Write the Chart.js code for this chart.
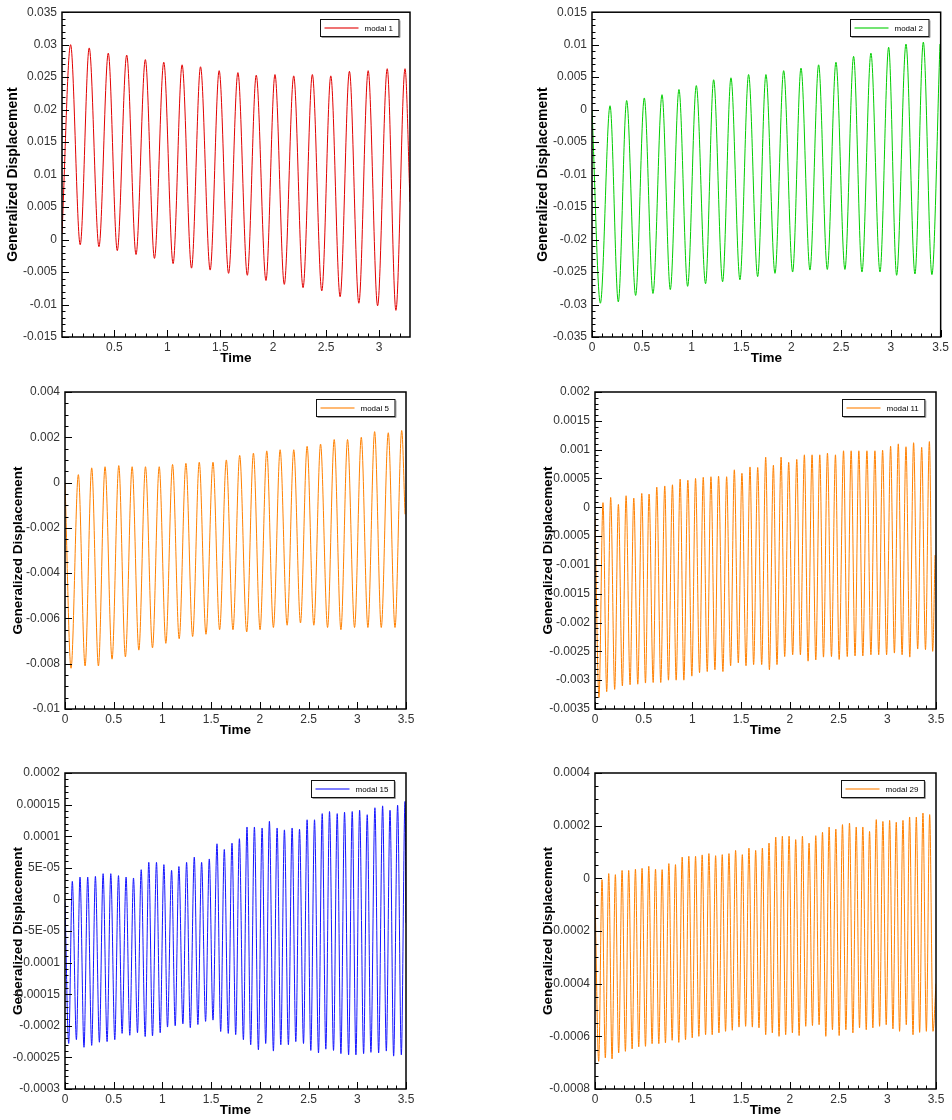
<!DOCTYPE html>
<html>
<head>
<meta charset="utf-8">
<script src="https://cdn.jsdelivr.net/npm/chart.js@4.4.0/dist/chart.umd.min.js"></script>
<style>
  body { margin: 0; background: #fff; width: 952px; height: 1120px; position: relative; overflow: hidden; }
  canvas { position: absolute; }
</style>
</head>
<body>
<canvas id="c1" width="420" height="368" style="left:0px;top:0px"></canvas>
<canvas id="c2" width="422" height="368" style="left:530px;top:0px"></canvas>
<canvas id="c3" width="420" height="372" style="left:0px;top:370px"></canvas>
<canvas id="c4" width="422" height="372" style="left:530px;top:370px"></canvas>
<canvas id="c5" width="420" height="375" style="left:0px;top:745px"></canvas>
<canvas id="c6" width="422" height="375" style="left:530px;top:745px"></canvas>
<script>
// --- données (pics et creux successifs) ---

// modal 1
const modal1Time = [0.006, 0.087, 0.178, 0.263, 0.355, 0.443, 0.528, 0.617, 0.705, 0.793, 0.879, 0.967, 1.055, 1.14, 1.229, 1.314, 1.405, 1.49, 1.579, 1.667, 1.756, 1.84, 1.932, 2.017, 2.105, 2.194, 2.282, 2.37, 2.459, 2.544, 2.632, 2.72, 2.809, 2.897, 2.986, 3.077, 3.159, 3.245, 3.292];
const modal1Disp = [0.0009, 0.0300, -0.0008, 0.0295, -0.0011, 0.0287, -0.0017, 0.0284, -0.0023, 0.0277, -0.0029, 0.0273, -0.0037, 0.0269, -0.0044, 0.0266, -0.0047, 0.0260, -0.0052, 0.0257, -0.0055, 0.0253, -0.0063, 0.0254, -0.0069, 0.0252, -0.0074, 0.0254, -0.0079, 0.0252, -0.0088, 0.0259, -0.0098, 0.0260, -0.0102, 0.0263, -0.0109, 0.0263, 0.0058];

// modal 2
const modal2Time = [0, 0.084, 0.181, 0.264, 0.348, 0.438, 0.525, 0.612, 0.703, 0.786, 0.873, 0.96, 1.047, 1.14, 1.221, 1.311, 1.395, 1.485, 1.572, 1.663, 1.746, 1.837, 1.924, 2.014, 2.098, 2.188, 2.275, 2.362, 2.449, 2.539, 2.626, 2.71, 2.8, 2.891, 2.978, 3.058, 3.152, 3.242, 3.326, 3.412, 3.493];
const modal2Disp = [0.0000, -0.0298, 0.0006, -0.0296, 0.0014, -0.0286, 0.0018, -0.0283, 0.0023, -0.0277, 0.0031, -0.0272, 0.0037, -0.0268, 0.0046, -0.0265, 0.0049, -0.0262, 0.0054, -0.0257, 0.0054, -0.0252, 0.0060, -0.0250, 0.0064, -0.0247, 0.0069, -0.0246, 0.0073, -0.0246, 0.0082, -0.0250, 0.0087, -0.0250, 0.0096, -0.0255, 0.0101, -0.0253, 0.0104, -0.0254, 0.0101];

// modal 5
const modal5Time = [0, 0.062, 0.137, 0.206, 0.274, 0.343, 0.411, 0.483, 0.552, 0.62, 0.689, 0.758, 0.826, 0.898, 0.967, 1.035, 1.104, 1.172, 1.241, 1.31, 1.378, 1.447, 1.519, 1.587, 1.656, 1.724, 1.793, 1.865, 1.934, 2.002, 2.071, 2.139, 2.208, 2.28, 2.348, 2.417, 2.485, 2.554, 2.623, 2.695, 2.763, 2.832, 2.9, 2.972, 3.041, 3.109, 3.178, 3.246, 3.318, 3.387, 3.456, 3.49];
const modal5Disp = [0, -0.0082, 0.00035, -0.0081, 0.00065, -0.0081, 0.0007, -0.0078, 0.00075, -0.0077, 0.0007, -0.0074, 0.0007, -0.0073, 0.0007, -0.0071, 0.0008, -0.0069, 0.00085, -0.0068, 0.0009, -0.0067, 0.0009, -0.0065, 0.001, -0.0065, 0.0012, -0.0066, 0.0013, -0.0065, 0.0014, -0.0064, 0.00145, -0.0063, 0.00145, -0.0062, 0.0016, -0.0063, 0.0017, -0.0064, 0.0019, -0.0065, 0.0019, -0.0064, 0.002, -0.0064, 0.00225, -0.0064, 0.0022, -0.0064, 0.0023, -0.0014];

// modal 11
const modal11PeakTime = [0.082, 0.161, 0.24, 0.319, 0.398, 0.48, 0.555, 0.634, 0.716, 0.795, 0.874, 0.953, 1.032, 1.111, 1.19, 1.268, 1.351, 1.43, 1.508, 1.591, 1.67, 1.752, 1.831, 1.91, 1.988, 2.071, 2.149, 2.228, 2.307, 2.386, 2.468, 2.551, 2.629, 2.708, 2.791, 2.873, 2.952, 3.034, 3.113, 3.192, 3.27, 3.353, 3.432];
const modal11Peak = [0.00008, 0.00017, 0.00005, 0.0002, 0.00016, 0.00024, 0.00023, 0.00035, 0.00037, 0.00039, 0.00049, 0.00047, 0.0005, 0.00052, 0.00053, 0.00054, 0.00053, 0.00065, 0.00059, 0.0007, 0.00069, 0.00087, 0.00073, 0.00087, 0.00078, 0.00083, 0.00091, 0.00091, 0.00091, 0.00094, 0.00091, 0.00098, 0.00098, 0.00098, 0.00098, 0.00098, 0.00099, 0.00106, 0.0011, 0.00105, 0.00112, 0.00104, 0.00114];
const modal11TroughTime = [0.041, 0.12, 0.202, 0.281, 0.36, 0.439, 0.518, 0.597, 0.675, 0.754, 0.833, 0.912, 0.994, 1.073, 1.152, 1.231, 1.313, 1.392, 1.471, 1.55, 1.628, 1.711, 1.79, 1.868, 1.947, 2.029, 2.108, 2.187, 2.266, 2.345, 2.427, 2.506, 2.589, 2.669, 2.749, 2.832, 2.912, 2.993, 3.073, 3.152, 3.231, 3.312, 3.392, 3.466];
const modal11Trough = [-0.0033, -0.0032, -0.00316, -0.0031, -0.00308, -0.00307, -0.00305, -0.00304, -0.00304, -0.003, -0.003, -0.003, -0.00293, -0.00287, -0.00285, -0.00282, -0.00285, -0.00275, -0.0027, -0.00275, -0.00273, -0.00273, -0.00282, -0.00273, -0.00259, -0.00256, -0.00256, -0.00267, -0.00265, -0.0026, -0.00259, -0.00264, -0.00259, -0.00258, -0.00258, -0.00256, -0.00256, -0.00256, -0.00253, -0.00256, -0.0026, -0.00246, -0.00247, -0.0025];
const modal11EdgeTime = [0, 3.49];
const modal11EdgeDisp = [-0.00016, -0.00083];

// modal 15
const modal15PeakTime = [0.075, 0.154, 0.233, 0.312, 0.391, 0.47, 0.549, 0.627, 0.703, 0.782, 0.86, 0.939, 1.015, 1.094, 1.169, 1.248, 1.327, 1.402, 1.481, 1.56, 1.635, 1.714, 1.79, 1.868, 1.944, 2.023, 2.098, 2.177, 2.252, 2.331, 2.407, 2.485, 2.561, 2.64, 2.715, 2.794, 2.869, 2.948, 3.024, 3.102, 3.181, 3.26, 3.336, 3.414, 3.49];
const modal15Peak = [0.0000286, 0.0000354, 0.0000354, 0.0000365, 0.0000407, 0.0000407, 0.0000376, 0.0000354, 0.0000339, 0.000047, 0.0000587, 0.0000587, 0.000055, 0.000046, 0.000052, 0.0000587, 0.000067, 0.0000587, 0.000064, 0.000088, 0.000079, 0.000089, 0.000096, 0.0001146, 0.0001146, 0.000113, 0.0001235, 0.000113, 0.00011, 0.000113, 0.000111, 0.000126, 0.000126, 0.0001357, 0.000139, 0.0001357, 0.000138, 0.000139, 0.000141, 0.000134, 0.000145, 0.000148, 0.000141, 0.000149, 0.000155];
const modal15TroughTime = [0.038, 0.117, 0.195, 0.274, 0.353, 0.432, 0.511, 0.586, 0.665, 0.744, 0.823, 0.898, 0.977, 1.052, 1.131, 1.21, 1.286, 1.364, 1.443, 1.519, 1.598, 1.676, 1.752, 1.831, 1.906, 1.985, 2.06, 2.139, 2.215, 2.293, 2.369, 2.448, 2.523, 2.602, 2.677, 2.756, 2.832, 2.911, 2.986, 3.065, 3.14, 3.219, 3.298, 3.373, 3.452];
const modal15Trough = [-0.000228, -0.000222, -0.000234, -0.000231, -0.000226, -0.000225, -0.000222, -0.000212, -0.000215, -0.000211, -0.000217, -0.000216, -0.000211, -0.000202, -0.0002, -0.000197, -0.000203, -0.000198, -0.000193, -0.000191, -0.000209, -0.000212, -0.000214, -0.000222, -0.00023, -0.000238, -0.000228, -0.00024, -0.00023, -0.00023, -0.000225, -0.000228, -0.000239, -0.000243, -0.000237, -0.000239, -0.000244, -0.000246, -0.000246, -0.000244, -0.000242, -0.000243, -0.00024, -0.000248, -0.000246];
const modal15EdgeTime = [0, 3.5];
const modal15EdgeDisp = [-0.000005, -0.000037];

// modal 29
const modal29PeakTime = [0.072, 0.141, 0.209, 0.278, 0.346, 0.415, 0.483, 0.552, 0.621, 0.689, 0.758, 0.826, 0.895, 0.963, 1.032, 1.1, 1.169, 1.238, 1.306, 1.375, 1.443, 1.512, 1.58, 1.649, 1.718, 1.786, 1.855, 1.923, 1.992, 2.06, 2.129, 2.197, 2.266, 2.335, 2.403, 2.472, 2.54, 2.612, 2.681, 2.749, 2.818, 2.887, 2.955, 3.024, 3.092, 3.161, 3.229, 3.298, 3.366, 3.435];
const modal29Peak = [-0.000005, 0.000018, 0.000014, 0.00003, 0.00003, 0.000035, 0.000038, 0.000046, 0.000035, 0.000033, 0.000056, 0.000052, 0.000081, 0.000084, 0.000084, 0.000089, 0.000094, 0.000086, 0.00009, 0.000094, 0.000106, 0.00009, 0.000115, 0.000106, 0.000115, 0.000134, 0.000157, 0.00016, 0.00016, 0.000147, 0.00016, 0.000134, 0.000162, 0.000175, 0.000195, 0.000187, 0.000204, 0.00021, 0.000195, 0.000195, 0.000178, 0.000223, 0.000216, 0.00022, 0.000213, 0.00022, 0.000233, 0.000233, 0.000248, 0.000242];
const modal29TroughTime = [0.038, 0.106, 0.175, 0.243, 0.312, 0.381, 0.449, 0.518, 0.586, 0.655, 0.723, 0.792, 0.86, 0.929, 0.998, 1.066, 1.135, 1.203, 1.272, 1.34, 1.409, 1.478, 1.546, 1.615, 1.683, 1.752, 1.82, 1.889, 1.957, 2.026, 2.095, 2.163, 2.232, 2.3, 2.369, 2.437, 2.506, 2.575, 2.647, 2.715, 2.784, 2.852, 2.921, 2.989, 3.058, 3.126, 3.195, 3.264, 3.332, 3.401, 3.469];
const modal29Trough = [-0.000695, -0.000682, -0.000686, -0.000663, -0.000657, -0.000648, -0.00064, -0.000638, -0.000628, -0.000628, -0.000625, -0.000615, -0.000623, -0.000613, -0.000606, -0.0006, -0.000594, -0.000594, -0.000587, -0.000581, -0.000577, -0.000565, -0.000562, -0.000565, -0.000568, -0.000594, -0.000587, -0.0006, -0.000594, -0.000587, -0.000597, -0.000562, -0.000559, -0.000556, -0.0006, -0.000575, -0.000597, -0.000575, -0.000587, -0.000568, -0.000575, -0.000568, -0.000562, -0.000556, -0.000572, -0.000581, -0.000556, -0.000594, -0.000585, -0.000581, -0.000581];
const modal29EdgeTime = [0, 3.5];
const modal29EdgeDisp = [-0.000056, -0.0004];

// --- graduations ---
const timeTicksFirst = [0.5, 1, 1.5, 2, 2.5, 3];
const timeTicks = [0, 0.5, 1, 1.5, 2, 2.5, 3, 3.5];
const timeLabels = ["0", "0.5", "1", "1.5", "2", "2.5", "3", "3.5"];

const yTicks1 = [0.035, 0.03, 0.025, 0.02, 0.015, 0.01, 0.005, 0, -0.005, -0.01, -0.015];
const yLabels1 = ["0.035", "0.03", "0.025", "0.02", "0.015", "0.01", "0.005", "0", "-0.005", "-0.01", "-0.015"];
const yTicks2 = [0.015, 0.01, 0.005, 0, -0.005, -0.01, -0.015, -0.02, -0.025, -0.03, -0.035];
const yLabels2 = ["0.015", "0.01", "0.005", "0", "-0.005", "-0.01", "-0.015", "-0.02", "-0.025", "-0.03", "-0.035"];
const yTicks5 = [0.004, 0.002, 0, -0.002, -0.004, -0.006, -0.008, -0.01];
const yLabels5 = ["0.004", "0.002", "0", "-0.002", "-0.004", "-0.006", "-0.008", "-0.01"];
const yTicks11 = [0.002, 0.0015, 0.001, 0.0005, 0, -0.0005, -0.001, -0.0015, -0.002, -0.0025, -0.003, -0.0035];
const yLabels11 = ["0.002", "0.0015", "0.001", "0.0005", "0", "-0.0005", "-0.001", "-0.0015", "-0.002", "-0.0025", "-0.003", "-0.0035"];
const yTicks15 = [0.0002, 0.00015, 0.0001, 0.00005, 0, -0.00005, -0.0001, -0.00015, -0.0002, -0.00025, -0.0003];
const yLabels15 = ["0.0002", "0.00015", "0.0001", "5E-05", "0", "-5E-05", "-0.0001", "-0.00015", "-0.0002", "-0.00025", "-0.0003"];
const yTicks29 = [0.0004, 0.0002, 0, -0.0002, -0.0004, -0.0006, -0.0008];
const yLabels29 = ["0.0004", "0.0002", "0", "-0.0002", "-0.0004", "-0.0006", "-0.0008"];

const FONT = '"Liberation Sans", Arial, sans-serif';

function toPoints(times, disps) {
  return times.map((t, i) => ({ x: t, y: disps[i] }));
}

// pics + creux + extrémités, triés par temps
function mergeExtrema(parts) {
  let pts = [];
  parts.forEach((p) => { pts = pts.concat(toPoints(p[0], p[1])); });
  return pts.sort((a, b) => a.x - b.x);
}

// cadre, graduations vers l'intérieur et légende type Tecplot
const tecplotFrame = {
  id: "tecplotFrame",
  afterDatasetsDraw(chart, args, opts) {
    const { ctx, chartArea: a } = chart;
    const xs = chart.scales.x, ys = chart.scales.y;
    ctx.save();
    ctx.strokeStyle = "#000";
    ctx.lineWidth = 1;

    const isMajor = (v, majors, step) => majors.some((m) => Math.abs(m - v) < step * 0.01);

    ctx.beginPath();
    for (let k = Math.ceil(xs.min / opts.xMinor - 1e-6); k * opts.xMinor <= xs.max + 1e-9; k++) {
      const v = k * opts.xMinor;
      const px = Math.round(xs.getPixelForValue(v)) + 0.5;
      const len = isMajor(v, opts.xMajor, opts.xMinor) ? 7 : 3.5;
      ctx.moveTo(px, a.bottom);
      ctx.lineTo(px, a.bottom - len);
    }
    for (let k = Math.ceil(ys.min / opts.yMinor - 1e-6); k * opts.yMinor <= ys.max + opts.yMinor * 1e-6; k++) {
      const v = k * opts.yMinor;
      const py = Math.round(ys.getPixelForValue(v)) + 0.5;
      const len = isMajor(v, opts.yMajor, opts.yMinor) ? 7 : 3.5;
      ctx.moveTo(a.left, py);
      ctx.lineTo(a.left + len, py);
    }
    ctx.stroke();

    ctx.lineWidth = 1.5;
    ctx.strokeRect(a.left, a.top, a.right - a.left, a.bottom - a.top);

    // légende
    ctx.font = "8px " + FONT;
    const textW = ctx.measureText(opts.label).width;
    const boxW = 4 + 34 + 6 + textW + 6;
    const boxH = 17;
    const bx = Math.round(a.right - 12 - boxW) + 0.5;
    const by = Math.round(a.top + 7) + 0.5;
    ctx.fillStyle = "#fff";
    ctx.fillRect(bx, by, boxW, boxH);
    ctx.strokeStyle = "#999";
    ctx.lineWidth = 1;
    ctx.beginPath();
    ctx.moveTo(bx + 1, by + boxH + 1);
    ctx.lineTo(bx + boxW + 1, by + boxH + 1);
    ctx.lineTo(bx + boxW + 1, by + 1);
    ctx.stroke();
    ctx.strokeStyle = "#111";
    ctx.strokeRect(bx, by, boxW, boxH);
    ctx.globalAlpha = 0.55;
    ctx.strokeStyle = opts.color;
    ctx.lineWidth = 2;
    ctx.beginPath();
    ctx.moveTo(bx + 4, by + boxH / 2);
    ctx.lineTo(bx + 38, by + boxH / 2);
    ctx.stroke();
    ctx.globalAlpha = 1;
    ctx.fillStyle = "#000";
    ctx.textBaseline = "middle";
    ctx.fillText(opts.label, bx + 44, by + boxH / 2 + 0.5);
    ctx.restore();
  },
};

function makePanel(cfg) {
  const canvas = document.getElementById(cfg.id);
  return new Chart(canvas.getContext("2d"), {
    type: "line",
    data: {
      datasets: [
        {
          label: cfg.label,
          data: cfg.points,
          borderColor: cfg.color,
          borderWidth: 1,
          pointRadius: 0,
          fill: false,
          cubicInterpolationMode: "monotone",
        },
      ],
    },
    options: {
      responsive: false,
      animation: false,
      events: [],
      layout: { padding: { top: cfg.padTop, right: cfg.padRight, left: 0, bottom: 0 } },
      plugins: {
        legend: { display: false },
        tooltip: { enabled: false },
        tecplotFrame: {
          label: cfg.label,
          color: cfg.color,
          xMinor: 0.1,
          xMajor: cfg.xTicks,
          yMinor: cfg.yMinor,
          yMajor: cfg.yTicks,
        },
      },
      scales: {
        x: {
          type: "linear",
          min: cfg.xMin,
          max: cfg.xMax,
          bounds: "data",
          grid: { display: false, drawTicks: false },
          border: { display: false },
          afterBuildTicks: (s) => { s.ticks = cfg.xTicks.map((v) => ({ value: v })); },
          afterFit: (s) => { s.height = cfg.xAxisH; },
          ticks: {
            autoSkip: false,
            maxRotation: 0,
            padding: 3,
            color: "#333",
            font: { family: FONT, size: 12 },
            callback: (v, i) => cfg.xLabels[i],
          },
          title: {
            display: true,
            text: "Time",
            color: "#000",
            font: { family: FONT, size: 13.5, weight: "bold" },
            padding: { top: 0, bottom: cfg.xTitlePad },
          },
        },
        y: {
          type: "linear",
          min: cfg.yTicks[cfg.yTicks.length - 1],
          max: cfg.yTicks[0],
          bounds: "data",
          grid: { display: false, drawTicks: false },
          border: { display: false },
          afterBuildTicks: (s) => { s.ticks = cfg.yTicks.map((v) => ({ value: v })); },
          afterFit: (s) => { s.width = cfg.yAxisW; },
          ticks: {
            autoSkip: false,
            padding: 5,
            color: "#333",
            font: { family: FONT, size: 12 },
            callback: (v, i) => cfg.yLabels[i],
          },
          title: {
            display: true,
            text: "Generalized Displacement",
            color: "#000",
            font: { family: FONT, size: cfg.yTitleSize, weight: "bold" },
            padding: { top: cfg.yTitlePad, bottom: 0 },
          },
        },
      },
    },
    plugins: [tecplotFrame],
  });
}

const common = { xMin: 0, xMax: 3.5, xTicks: timeTicks, xLabels: timeLabels };

makePanel({ ...common, id: "c1", label: "modal 1", color: "rgb(225,0,0)",
  points: toPoints(modal1Time, modal1Disp),
  xMin: 0.006, xMax: 3.292, xTicks: timeTicksFirst, xLabels: timeLabels.slice(1, 7),
  yTicks: yTicks1, yLabels: yLabels1, yMinor: 0.001,
  yAxisW: 62, xAxisH: 31, padTop: 12, padRight: 10, yTitlePad: 5, yTitleSize: 14, xTitlePad: 2 });

makePanel({ ...common, id: "c2", label: "modal 2", color: "rgb(0,205,0)",
  points: toPoints(modal2Time, modal2Disp),
  yTicks: yTicks2, yLabels: yLabels2, yMinor: 0.001,
  yAxisW: 62, xAxisH: 31, padTop: 12, padRight: 11, yTitlePad: 5, yTitleSize: 14, xTitlePad: 2 });

makePanel({ ...common, id: "c3", label: "modal 5", color: "rgb(255,128,0)",
  points: toPoints(modal5Time, modal5Disp),
  yTicks: yTicks5, yLabels: yLabels5, yMinor: 0.0005,
  yAxisW: 65, xAxisH: 33, padTop: 22, padRight: 14, yTitlePad: 10, yTitleSize: 13.5, xTitlePad: 4 });

makePanel({ ...common, id: "c4", label: "modal 11", color: "rgb(255,128,0)",
  points: mergeExtrema([[modal11PeakTime, modal11Peak], [modal11TroughTime, modal11Trough], [modal11EdgeTime, modal11EdgeDisp]]),
  yTicks: yTicks11, yLabels: yLabels11, yMinor: 0.0001,
  yAxisW: 65, xAxisH: 33, padTop: 22, padRight: 16, yTitlePad: 10, yTitleSize: 13.5, xTitlePad: 4 });

makePanel({ ...common, id: "c5", label: "modal 15", color: "rgb(20,20,255)",
  points: mergeExtrema([[modal15PeakTime, modal15Peak], [modal15TroughTime, modal15Trough], [modal15EdgeTime, modal15EdgeDisp]]),
  yTicks: yTicks15, yLabels: yLabels15, yMinor: 0.00001,
  yAxisW: 65, xAxisH: 31, padTop: 28, padRight: 14, yTitlePad: 10, yTitleSize: 13.5, xTitlePad: 2 });

makePanel({ ...common, id: "c6", label: "modal 29", color: "rgb(255,128,0)",
  points: mergeExtrema([[modal29PeakTime, modal29Peak], [modal29TroughTime, modal29Trough], [modal29EdgeTime, modal29EdgeDisp]]),
  yTicks: yTicks29, yLabels: yLabels29, yMinor: 0.00005,
  yAxisW: 65, xAxisH: 31, padTop: 28, padRight: 16, yTitlePad: 10, yTitleSize: 13.5, xTitlePad: 2 });
</script>
</body>
</html>
